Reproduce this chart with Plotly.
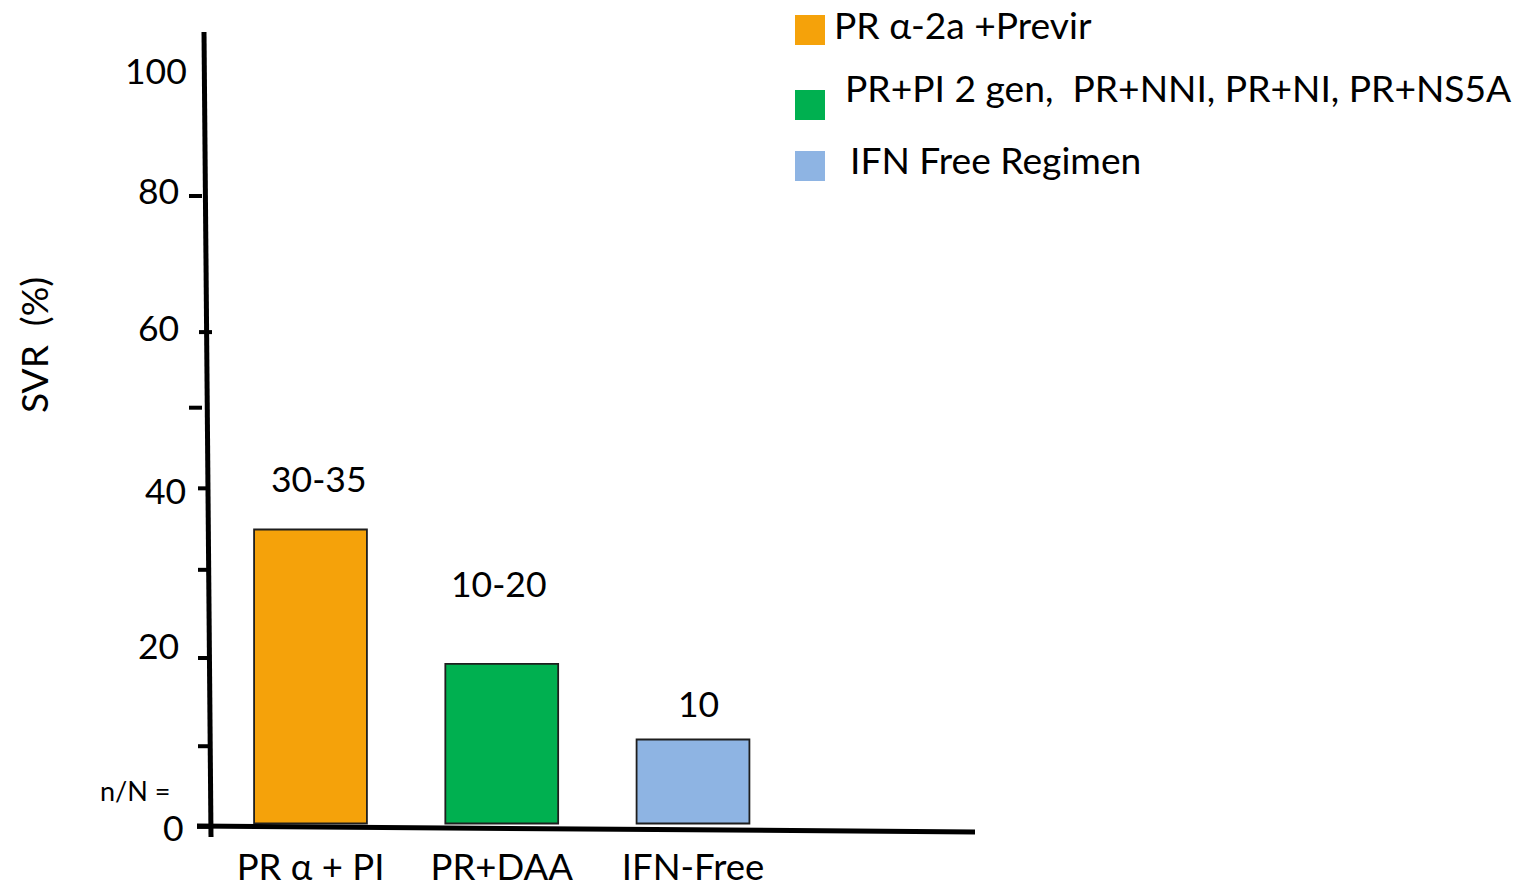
import plotly.graph_objects as go

# Regimen groups and their sustained virologic response (%)
categories = ["PR α + PI", "PR+DAA", "IFN-Free"]
svr_values = [35, 19, 10]
value_labels = ["30-35", "10-20", "10"]
legend_names = ["PR α-2a +Previr", "PR+PI 2 gen,  PR+NNI, PR+NI, PR+NS5A", "IFN Free Regimen"]
bar_colors = ["#F5A20A", "#00B050", "#8EB4E3"]

# Hand-drawn y axis: label and tick-mark heights in SVR units
y_label_text = ["0", "20", "40", "60", "80", "100"]
y_label_values = [-0.5, 21.2, 39.7, 59.1, 75.4, 89.7]
y_tick_marks = [-0.4, 9.2, 19.7, 30.2, 39.9, 49.5, 58.5, 74.7]

FONT = "Lato, 'Noto Sans', 'DejaVu Sans', sans-serif"
W, H = 1520, 889
L, R, T, B = 208, 975, 20, 840  # plot area in pixels


def px(xp):
    return (xp - L) / (R - L)


def py(yp):
    return (B - yp) / (B - T)


fig = go.Figure()
fig.add_trace(go.Bar(
    x=categories, y=svr_values, width=0.59,
    marker=dict(color=bar_colors, line=dict(color="#1e1e1e", width=1.8)),
    showlegend=False, hoverinfo="x+y",
))

shapes = []
# slightly tilted axis lines
shapes.append(dict(type="line", xref="paper", yref="paper",
                   x0=px(204), y0=py(32), x1=px(211), y1=py(837),
                   line=dict(color="black", width=5)))
shapes.append(dict(type="line", xref="paper", yref="paper",
                   x0=px(197), y0=py(826), x1=px(975), y1=py(832),
                   line=dict(color="black", width=5)))
# tick marks along the y axis
tick_x_extent = [(197, 211), (198, 208), (198, 207), (198, 207),
                 (198, 207), (189, 202), (199, 212), (189, 202)]
for v, (xa, xb) in zip(y_tick_marks, tick_x_extent):
    shapes.append(dict(type="line", xref="paper", yref="y",
                       x0=px(xa), x1=px(xb), y0=v, y1=v,
                       line=dict(color="black", width=4)))

annotations = []
# y tick labels, placed by hand along the drawn axis
label_right_edge = [186, 181, 188, 181, 181, 189]
for txt, v, re in zip(y_label_text, y_label_values, label_right_edge):
    annotations.append(dict(xref="paper", yref="y", x=px(re), y=v, text=txt,
                            showarrow=False, xanchor="right", yanchor="middle",
                            font=dict(family=FONT, size=35.5, color="black")))

# legend swatches
swatch_tops = [15, 90, 151]
text_left = [832, 843, 848]
text_mid = [24, 88, 159]
for col, top, name, tl, tm in zip(bar_colors, swatch_tops, legend_names, text_left, text_mid):
    shapes.append(dict(type="rect", xref="paper", yref="paper",
                       x0=px(795), x1=px(825), y0=py(top + 30), y1=py(top),
                       fillcolor=col, line=dict(width=0)))
    annotations.append(dict(xref="paper", yref="paper", x=px(tl), y=py(tm),
                            text=name, showarrow=False, xanchor="left", yanchor="middle",
                            font=dict(family=FONT, size=37.2, color="black")))

# value labels above the bars
label_yshift = [51, 80, 36]
label_xshift = [8, -3, 5]
for cat, val, lab, ys, xs in zip(categories, svr_values, value_labels, label_yshift, label_xshift):
    annotations.append(dict(x=cat, y=val, text=lab, showarrow=False,
                            xanchor="center", yanchor="middle", yshift=ys, xshift=xs,
                            font=dict(family=FONT, size=35.5, color="black")))

annotations.append(dict(xref="paper", yref="paper", x=px(135), y=py(790), text="n/N =",
                        showarrow=False, xanchor="center", yanchor="middle",
                        font=dict(family=FONT, size=27, color="black")))
annotations.append(dict(xref="paper", yref="paper", x=px(33), y=py(345), text="SVR&nbsp;&nbsp;(%)",
                        showarrow=False, xanchor="center", yanchor="middle", textangle=-90,
                        font=dict(family=FONT, size=37, color="black")))

scale = 8.4  # pixels per SVR unit
baseline = 823.5
fig.update_layout(
    width=W, height=H,
    margin=dict(l=L, r=W - R, t=T, b=H - B),
    paper_bgcolor="white", plot_bgcolor="white",
    shapes=shapes, annotations=annotations,
    xaxis=dict(type="category", range=[-(310.5 - L) / 191.25, (R - 310.5) / 191.25],
               showline=False, showgrid=False, zeroline=False, ticks="", automargin=False,
               tickfont=dict(family=FONT, size=36.5, color="black"), ticklabelstandoff=2),
    yaxis=dict(range=[-(B - baseline) / scale, (baseline - T) / scale],
               showline=False, showgrid=False, zeroline=False, ticks="", automargin=False,
               showticklabels=False),
)

fig.write_html("out.html")
